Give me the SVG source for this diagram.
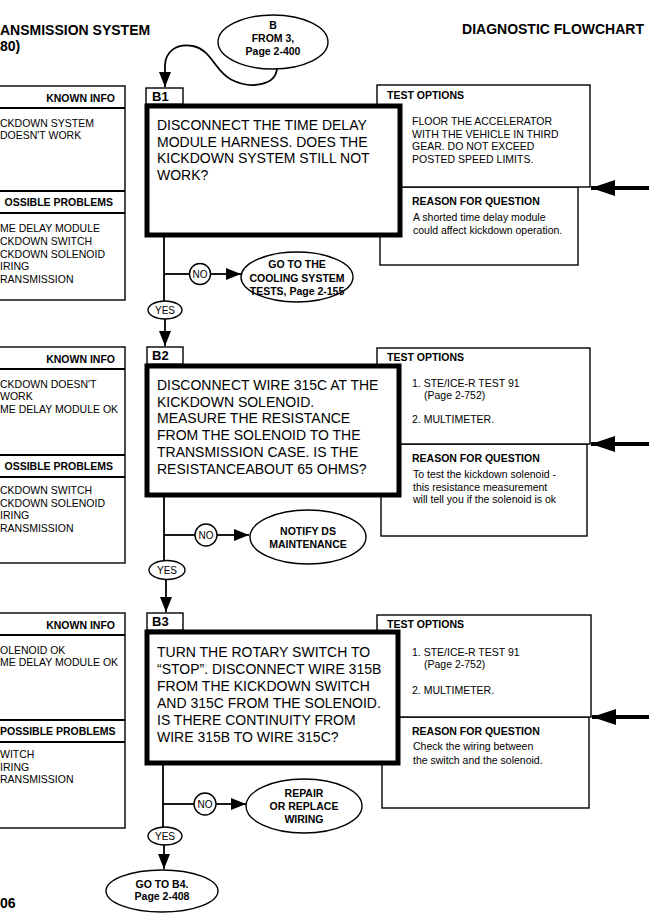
<svg xmlns="http://www.w3.org/2000/svg" width="649" height="919" viewBox="0 0 649 919">
<style>
text{font-family:"Liberation Sans",Arial,Helvetica,sans-serif;fill:#000}
.q{font-size:14px}
.h{font-size:10.5px;font-weight:bold}
.s{font-size:10.5px}
.e{font-size:10.5px;font-weight:bold;text-anchor:middle}
.lbl{font-size:13px;font-weight:bold}
.ttl{font-size:14px;font-weight:bold}
.box{fill:#fff;stroke:#000;stroke-width:1.4}
.thick{fill:#fff;stroke:#000;stroke-width:5}
.ln{fill:none;stroke:#000;stroke-width:1.8}
.big{fill:none;stroke:#000;stroke-width:4}
</style>
<defs>
<marker id="ah" markerUnits="userSpaceOnUse" markerWidth="15" markerHeight="12" refX="15" refY="6" orient="auto"><path d="M0,0 L15,6 L0,12 z" fill="#000"/></marker>
<marker id="bh" markerUnits="userSpaceOnUse" markerWidth="24" markerHeight="16" refX="24" refY="8" orient="auto"><path d="M0,0 L24,8 L0,16 z" fill="#000"/></marker>
</defs>
<rect width="649" height="919" fill="#fff"/>

<g id="header">
<text class="ttl" x="0" y="35">ANSMISSION SYSTEM</text>
<text class="ttl" x="0" y="51">80)</text>
<text class="ttl" x="644" y="34" text-anchor="end">DIAGNOSTIC FLOWCHART</text>
<text class="ttl" x="0" y="908">06</text>
</g>

<g id="start">
<ellipse class="box" cx="273" cy="42" rx="55" ry="27" stroke-width="1.8"/>
<text class="e" x="273" y="29">B</text>
<text class="e" x="273" y="42">FROM 3,</text>
<text class="e" x="273" y="55">Page 2-400</text>
</g>

<!-- Section 1 -->
<g id="known1">
<rect class="box" x="-5" y="86" width="130" height="214"/>
<line class="ln" x1="-5" y1="108" x2="125" y2="108" stroke-width="1.4"/>
<line class="ln" x1="-5" y1="191" x2="125" y2="191" stroke-width="1.4"/>
<line class="ln" x1="-5" y1="213" x2="125" y2="213" stroke-width="1.4"/>
<text class="h" x="115" y="102" text-anchor="end">KNOWN INFO</text>
<text class="s" x="0" y="127">CKDOWN SYSTEM</text>
<text class="s" x="0" y="139">DOESN'T WORK</text>
<text class="h" x="113" y="206" text-anchor="end">OSSIBLE PROBLEMS</text>
<text class="s" x="0" y="232">ME DELAY MODULE</text>
<text class="s" x="0" y="245">CKDOWN SWITCH</text>
<text class="s" x="0" y="258">CKDOWN SOLENOID</text>
<text class="s" x="0" y="270">IRING</text>
<text class="s" x="0" y="283">RANSMISSION</text>
</g>
<g id="options1">
<rect class="box" x="380" y="187" width="198" height="78"/>
<rect class="box" x="377" y="85" width="213" height="102"/>
<text class="h" x="387" y="99">TEST OPTIONS</text>
<text class="s" x="412" y="125">FLOOR THE ACCELERATOR</text>
<text class="s" x="412" y="137.5">WITH THE VEHICLE IN THIRD</text>
<text class="s" x="412" y="150">GEAR.  DO NOT EXCEED</text>
<text class="s" x="412" y="162.5">POSTED SPEED LIMITS.</text>
<text class="h" x="412" y="205">REASON FOR QUESTION</text>
<text class="s" x="413" y="221">A shorted time delay module</text>
<text class="s" x="413" y="234">could affect kickdown operation.</text>
</g>
<g id="B1">
<rect class="thick" x="147" y="106" width="253" height="129"/>
<rect class="box" x="146" y="88" width="37" height="16" stroke-width="1.8"/>
<text class="lbl" x="152" y="101">B1</text>
<text class="q" x="157" y="130">DISCONNECT THE TIME DELAY</text>
<text class="q" x="157" y="146.7">MODULE HARNESS. DOES THE</text>
<text class="q" x="157" y="163.4">KICKDOWN SYSTEM STILL NOT</text>
<text class="q" x="157" y="180.1">WORK?</text>
</g>
<g id="goto_cooling">
<ellipse class="box" cx="297" cy="277" rx="56" ry="25" stroke-width="1.8"/>
<text class="e" x="297" y="268">GO TO THE</text>
<text class="e" x="297" y="282">COOLING SYSTEM</text>
<text class="e" x="297" y="295">TESTS, Page 2-155</text>
</g>

<!-- Section 2 -->
<g id="known2">
<rect class="box" x="-5" y="347" width="130" height="216"/>
<line class="ln" x1="-5" y1="369" x2="125" y2="369" stroke-width="1.4"/>
<line class="ln" x1="-5" y1="455" x2="125" y2="455" stroke-width="1.4"/>
<line class="ln" x1="-5" y1="477" x2="125" y2="477" stroke-width="1.4"/>
<text class="h" x="115" y="363" text-anchor="end">KNOWN INFO</text>
<text class="s" x="0" y="388">CKDOWN DOESN'T</text>
<text class="s" x="0" y="400">WORK</text>
<text class="s" x="0" y="413">ME DELAY MODULE OK</text>
<text class="h" x="113" y="470" text-anchor="end">OSSIBLE PROBLEMS</text>
<text class="s" x="0" y="494">CKDOWN SWITCH</text>
<text class="s" x="0" y="506.5">CKDOWN SOLENOID</text>
<text class="s" x="0" y="519">IRING</text>
<text class="s" x="0" y="531.5">RANSMISSION</text>
</g>
<g id="options2">
<rect class="box" x="381" y="444" width="206" height="92"/>
<rect class="box" x="377" y="348" width="213" height="96"/>
<text class="h" x="387" y="361">TEST OPTIONS</text>
<text class="s" x="412" y="387">1. STE/ICE-R TEST 91</text>
<text class="s" x="424" y="399">(Page 2-752)</text>
<text class="s" x="412" y="423">2. MULTIMETER.</text>
<text class="h" x="412" y="462">REASON FOR QUESTION</text>
<text class="s" x="413" y="478">To test the kickdown solenoid -</text>
<text class="s" x="413" y="491">this resistance measurement</text>
<text class="s" x="413" y="503">will tell you if the solenoid is ok</text>
</g>
<g id="B2">
<rect class="thick" x="147" y="366" width="252" height="129"/>
<rect class="box" x="147" y="347" width="36" height="17" stroke-width="1.8"/>
<text class="lbl" x="152" y="360">B2</text>
<text class="q" x="157" y="390">DISCONNECT WIRE 315C AT THE</text>
<text class="q" x="157" y="406.7">KICKDOWN SOLENOID.</text>
<text class="q" x="157" y="423.4">MEASURE THE RESISTANCE</text>
<text class="q" x="157" y="440.1">FROM THE SOLENOID TO THE</text>
<text class="q" x="157" y="456.8">TRANSMISSION CASE. IS THE</text>
<text class="q" x="157" y="473.5">RESISTANCEABOUT 65 OHMS?</text>
</g>
<g id="notify">
<ellipse class="box" cx="308" cy="537" rx="58" ry="27" stroke-width="1.8"/>
<text class="e" x="308" y="535">NOTIFY DS</text>
<text class="e" x="308" y="548">MAINTENANCE</text>
</g>

<!-- Section 3 -->
<g id="known3">
<rect class="box" x="-5" y="613" width="130" height="215"/>
<line class="ln" x1="-5" y1="635" x2="125" y2="635" stroke-width="1.4"/>
<line class="ln" x1="-5" y1="720" x2="125" y2="720" stroke-width="1.4"/>
<line class="ln" x1="-5" y1="742" x2="125" y2="742" stroke-width="1.4"/>
<text class="h" x="115" y="629" text-anchor="end">KNOWN INFO</text>
<text class="s" x="0" y="654">OLENOID OK</text>
<text class="s" x="0" y="666">ME DELAY MODULE OK</text>
<text class="h" x="0" y="735">POSSIBLE PROBLEMS</text>
<text class="s" x="0" y="758">WITCH</text>
<text class="s" x="0" y="771">IRING</text>
<text class="s" x="0" y="783">RANSMISSION</text>
</g>
<g id="options3">
<rect class="box" x="382" y="717" width="207" height="91"/>
<rect class="box" x="377" y="615" width="214" height="102"/>
<text class="h" x="387" y="628">TEST OPTIONS</text>
<text class="s" x="412" y="656">1. STE/ICE-R TEST 91</text>
<text class="s" x="424" y="668">(Page 2-752)</text>
<text class="s" x="412" y="694">2. MULTIMETER.</text>
<text class="h" x="412" y="735">REASON FOR QUESTION</text>
<text class="s" x="413" y="750">Check the wiring between</text>
<text class="s" x="413" y="764">the switch and the solenoid.</text>
</g>
<g id="B3">
<rect class="thick" x="147" y="632" width="251" height="131"/>
<rect class="box" x="147" y="613" width="36" height="17" stroke-width="1.8"/>
<text class="lbl" x="152" y="626">B3</text>
<text class="q" x="157" y="657">TURN THE ROTARY SWITCH TO</text>
<text class="q" x="157" y="674">“STOP”.  DISCONNECT WIRE 315B</text>
<text class="q" x="157" y="691">FROM THE KICKDOWN SWITCH</text>
<text class="q" x="157" y="708">AND 315C FROM THE SOLENOID.</text>
<text class="q" x="157" y="725">IS THERE CONTINUITY FROM</text>
<text class="q" x="157" y="742">WIRE 315B TO WIRE 315C?</text>
</g>
<g id="repair">
<ellipse class="box" cx="304" cy="806" rx="58" ry="27" stroke-width="1.8"/>
<text class="e" x="304" y="797">REPAIR</text>
<text class="e" x="304" y="810">OR REPLACE</text>
<text class="e" x="304" y="823">WIRING</text>
</g>
<g id="goto_b4">
<ellipse class="box" cx="162" cy="891" rx="56" ry="21" stroke-width="1.8"/>
<text class="e" x="162" y="888">GO TO B4.</text>
<text class="e" x="162" y="900">Page 2-408</text>
</g>

<g id="connectors">
<path class="ln" d="M277,68 C276,86 250,89 232,80 C215,72 212,50 193,46 C176,43 165,52 165,66 L165,87" marker-end="url(#ah)"/>
<line class="ln" x1="164" y1="237" x2="164" y2="301"/>
<line class="ln" x1="164" y1="274" x2="190" y2="274"/>
<line class="ln" x1="211" y1="274" x2="241" y2="274" marker-end="url(#ah)"/>
<line class="ln" x1="165" y1="319" x2="165" y2="346" marker-end="url(#ah)"/>
<line class="ln" x1="164" y1="497" x2="164" y2="561"/>
<line class="ln" x1="164" y1="535" x2="195" y2="535"/>
<line class="ln" x1="217" y1="535" x2="249" y2="535" marker-end="url(#ah)"/>
<line class="ln" x1="166" y1="580" x2="166" y2="612" marker-end="url(#ah)"/>
<line class="ln" x1="163" y1="765" x2="163" y2="827"/>
<line class="ln" x1="163" y1="804" x2="194" y2="804"/>
<line class="ln" x1="216" y1="804" x2="246" y2="804" marker-end="url(#ah)"/>
<line class="ln" x1="164" y1="845" x2="164" y2="869" marker-end="url(#ah)"/>
<line class="big" x1="649" y1="188" x2="591" y2="188" marker-end="url(#bh)"/>
<line class="big" x1="649" y1="444" x2="591" y2="444" marker-end="url(#bh)"/>
<line class="big" x1="649" y1="717" x2="592" y2="717" marker-end="url(#bh)"/>
</g>

<g id="no1"><circle class="box" cx="200" cy="274" r="10.5" stroke-width="1.6"/><text x="200" y="278" font-size="10" text-anchor="middle">NO</text></g>
<g id="yes1"><ellipse class="box" cx="165" cy="310" rx="17" ry="9" stroke-width="1.6"/><text x="165" y="314" font-size="10" text-anchor="middle">YES</text></g>
<g id="no2"><circle class="box" cx="206" cy="535" r="11" stroke-width="1.6"/><text x="206" y="539" font-size="10" text-anchor="middle">NO</text></g>
<g id="yes2"><ellipse class="box" cx="167" cy="570" rx="18" ry="9.5" stroke-width="1.6"/><text x="167" y="574" font-size="10" text-anchor="middle">YES</text></g>
<g id="no3"><circle class="box" cx="205" cy="804" r="11" stroke-width="1.6"/><text x="205" y="808" font-size="10" text-anchor="middle">NO</text></g>
<g id="yes3"><ellipse class="box" cx="165" cy="836" rx="17" ry="9" stroke-width="1.6"/><text x="165" y="840" font-size="10" text-anchor="middle">YES</text></g>
</svg>
